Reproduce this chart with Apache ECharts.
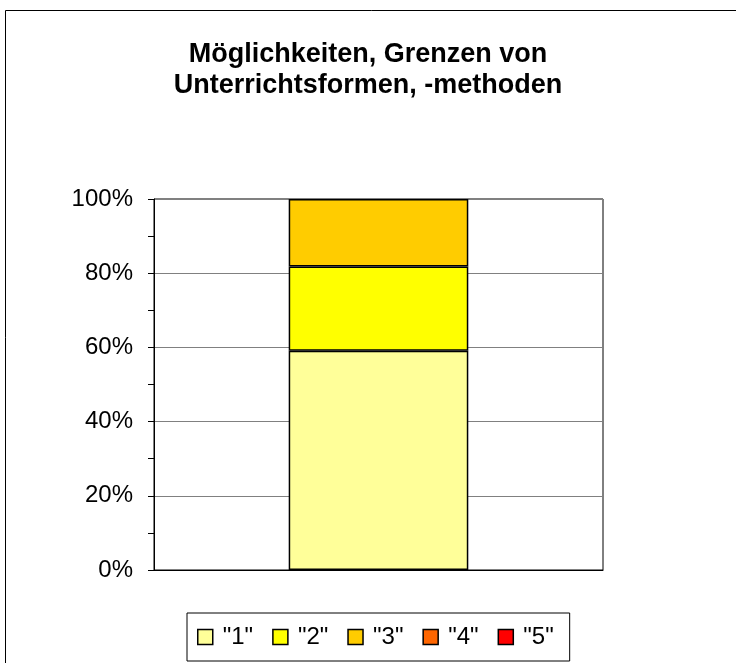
<!DOCTYPE html>
<html>
<head>
<meta charset="utf-8">
<script src="https://cdn.jsdelivr.net/npm/echarts@6/dist/echarts.min.js"></script>
<style>
html,body{margin:0;padding:0;background:#fff;}
#c{width:736px;height:663px;}
</style>
</head>
<body>
<div id="c"></div>
<script>
const titleText = 'Möglichkeiten, Grenzen von\nUnterrichtsformen, -methoden';
const categories = [''];
const seriesNames = ['"1"', '"2"', '"3"', '"4"', '"5"'];
const seriesColors = ['#FFFF99', '#FFFF00', '#FFCC00', '#FF6600', '#FF0000'];
const s1 = [59.1];
const s2 = [22.7];
const s3 = [18.2];
const s4 = [0];
const s5 = [0];
const seriesValues = [s1, s2, s3, s4, s5];
const yTicks = [0, 20, 40, 60, 80, 100];

const chart = echarts.init(document.getElementById('c'), null, {renderer: 'canvas'});
const font = 'Liberation Sans, Arial, sans-serif';
chart.setOption({
  animation: false,
  backgroundColor: '#fff',
  title: {
    text: titleText,
    left: 'center',
    top: 39,
    padding: 0,
    textStyle: {fontFamily: font, fontSize: 27, fontWeight: 'bold', color: '#000', lineHeight: 31}
  },
  graphic: [{
    type: 'rect',
    shape: {x: 5.5, y: 10.5, width: 740, height: 670},
    style: {fill: 'none', stroke: '#000', lineWidth: 1},
    silent: true,
    z: 100
  }],
  legend: {
    left: 187,
    top: 613,
    padding: [12, 16, 12, 10],
    borderColor: '#000',
    borderWidth: 1,
    itemWidth: 15,
    itemHeight: 15,
    itemGap: 19,
    icon: 'rect',
    textStyle: {fontFamily: font, fontSize: 24, color: '#000', padding: [0, 0, 0, 5]},
    data: seriesNames.map((n, i) => ({
      name: n,
      itemStyle: {color: seriesColors[i], borderColor: '#000', borderWidth: 1.5}
    }))
  },
  grid: {
    left: 154, right: 133, top: 199, bottom: 93,
    show: true, borderColor: '#000', borderWidth: 1, backgroundColor: 'transparent'
  },
  xAxis: {
    type: 'category',
    data: categories,
    axisLine: {show: true, lineStyle: {color: '#000'}},
    axisTick: {show: false},
    axisLabel: {show: false}
  },
  yAxis: {
    type: 'value',
    min: yTicks[0],
    max: yTicks[yTicks.length - 1],
    interval: 20,
    axisLine: {show: true, lineStyle: {color: '#000'}},
    axisTick: {show: true, length: 6, lineStyle: {color: '#000'}},
    minorTick: {show: true, splitNumber: 2, length: 6, lineStyle: {color: '#000'}},
    splitLine: {show: true, lineStyle: {color: '#808080', width: 1}},
    axisLabel: {formatter: '{value}%', fontFamily: font, fontSize: 24, color: '#000', margin: 21}
  },
  series: seriesNames.map((name, i) => ({
    name: name,
    type: 'bar',
    stack: 'total',
    barWidth: '40%',
    data: seriesValues[i],
    itemStyle: {color: seriesColors[i], borderColor: '#000', borderWidth: seriesValues[i][0] > 0 ? 1.5 : 0},
    emphasis: {disabled: true}
  }))
});
</script>
</body>
</html>
